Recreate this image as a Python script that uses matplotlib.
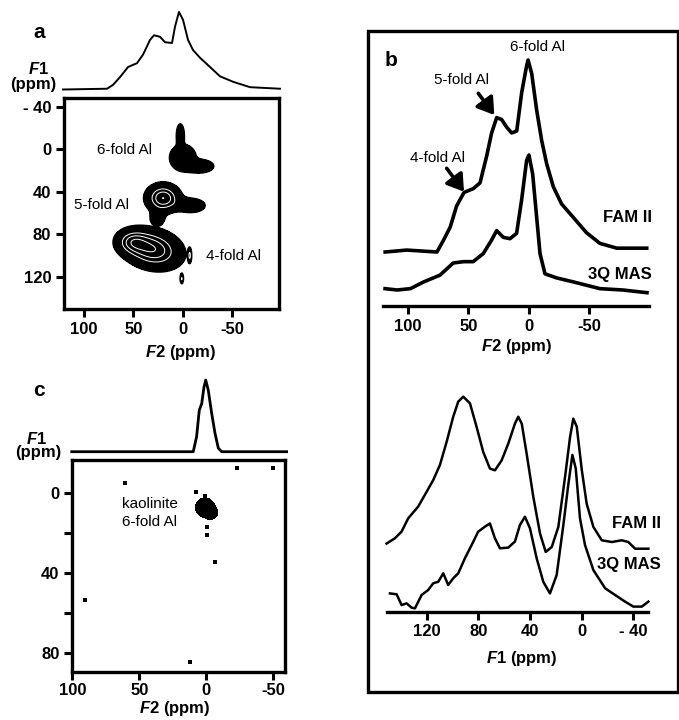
import numpy as np
import matplotlib
matplotlib.use("Agg")
import matplotlib.pyplot as plt
from matplotlib.patches import Rectangle, FancyArrowPatch

plt.rcParams['font.family'] = ['Liberation Sans', 'DejaVu Sans']
plt.rcParams['mathtext.fontset'] = 'custom'
plt.rcParams['mathtext.it'] = 'Liberation Sans:italic:bold'
plt.rcParams['mathtext.rm'] = 'Liberation Sans:bold'
plt.rcParams['mathtext.bf'] = 'Liberation Sans:bold'

# ------------------------------------------------------------------ data
# panel a : F2 projection (normalised intensity)
a_proj_ppm = [121.4, 76.8, 70.7, 63.6, 55.5, 46.4, 40.3, 33.2, 29.2, 23.1, 18.0,
              10.9, 7.9, 3.9, -0.2, -5.3, -10.3, -17.4, -27.6, -37.7, -50.9, -68.1, -98.5]
a_proj_int = [0.0, 0.01, 0.06, 0.16, 0.29, 0.34, 0.45, 0.64, 0.70, 0.68, 0.61,
              0.60, 0.81, 1.0, 0.90, 0.64, 0.51, 0.41, 0.29, 0.17, 0.10, 0.03, 0.01]

# panel a : 2D contour peak components (F2, F1 centre, widths, correlation, amplitude)
a_peak_site = [6, 6, 6, 5, 5, 5, 4, 4, 4, 4]
a_peak_f2 = [2.5, 0.0, -17.0, 20.0, -9.0, 26.0, 31.0, 52.0, -7.0, 1.0]
a_peak_f1 = [-13.0, 8.0, 16.0, 46.0, 53.0, 66.0, 94.0, 87.0, 100.0, 122.0]
a_peak_w2 = [2.2, 7.5, 8.0, 11.0, 9.5, 5.0, 19.0, 10.0, 1.0, 1.0]
a_peak_w1 = [6.0, 7.0, 3.5, 8.5, 4.5, 5.0, 12.0, 7.0, 4.0, 3.0]
a_peak_rho = [0, 0, 0, 0, 0, 0, -0.2, 0, 0, 0]
a_peak_amp = [1.0, 1.0, 1.0, 1.0, 0.55, 0.45, 1.0, 0.5, 0.6, 0.6]
a_site_labels = ["6-fold Al", "5-fold Al", "4-fold Al"]

# panel b (top): F2 projections
fam_f2_ppm = [118.9, 101, 76, 70.7, 65, 59.7, 53.6, 45.9, 40.3, 34.8, 30.7, 26.5, 22.4,
              18.2, 14.1, 9.9, 5.8, 1.7, 0.5, -2.5, -6.6, -10.8, -14.9, -20.4, -27.3,
              -37, -48, -59, -73, -97.8]
fam_f2_int = [0.0, 0.01, 0.0, 0.06, 0.13, 0.24, 0.31, 0.33, 0.36, 0.50, 0.62, 0.70, 0.69,
              0.65, 0.62, 0.63, 0.83, 0.97, 1.0, 0.93, 0.74, 0.58, 0.46, 0.34, 0.25,
              0.18, 0.10, 0.045, 0.02, 0.02]
q3_f2_ppm = [119, 109, 98, 87, 73.5, 62.5, 54, 46, 37.6, 30.7, 26.5, 21, 15.5, 10, 5.8,
             1.7, -0.2, -3.3, -6.6, -9.4, -13.5, -23, -37, -59, -78, -98]
q3_f2_int = [0.01, 0.0, 0.01, 0.06, 0.11, 0.20, 0.21, 0.21, 0.27, 0.37, 0.44, 0.39, 0.38,
             0.42, 0.67, 0.96, 1.0, 0.86, 0.54, 0.27, 0.12, 0.09, 0.06, 0.01, 0.0, -0.02]

# panel b (bottom): F1 projections
fam_f1_ppm = [151.3, 144.9, 139.7, 134.5, 126.8, 120.2, 115.1, 109.9, 104.7, 99.6, 95.7,
              91.8, 86.6, 81.4, 76.3, 71.1, 67.2, 62.0, 56.9, 51.7, 49.1, 46.4, 42.6,
              37.4, 32.2, 27.8, 23.1, 18.0, 12.8, 8.9, 6.4, 3.7, -0.2, -4.0, -9.2,
              -15.7, -23.5, -31.2, -36.3, -41.6, -51.9]
fam_f1_int = [0.317, 0.341, 0.372, 0.434, 0.488, 0.557, 0.611, 0.681, 0.788, 0.904, 0.974,
              0.997, 0.966, 0.856, 0.741, 0.664, 0.656, 0.702, 0.779, 0.872, 0.904, 0.872,
              0.733, 0.532, 0.363, 0.278, 0.301, 0.394, 0.625, 0.810, 0.895, 0.858, 0.658,
              0.501, 0.394, 0.332, 0.324, 0.332, 0.324, 0.293, 0.293]
q3_f1_ppm = [148.7, 143.5, 139.7, 135.8, 131.9, 129.3, 124.1, 119.0, 115.1, 111.2, 107.3,
             103.5, 99.6, 95.7, 90.5, 85.3, 80.2, 75.0, 71.1, 67.2, 63.3, 56.9, 51.7,
             47.8, 43.9, 40.0, 34.8, 29.7, 24.5, 19.3, 14.1, 10.3, 7.1, 4.5, 1.2, -2.7,
             -9.2, -18.3, -26.0, -33.8, -40.2, -46.8, -51.9]
q3_f1_int = [0.086, 0.082, 0.032, 0.040, 0.020, 0.017, 0.079, 0.102, 0.133, 0.140, 0.179,
             0.125, 0.156, 0.179, 0.249, 0.310, 0.372, 0.395, 0.410, 0.341, 0.295, 0.298,
             0.326, 0.403, 0.441, 0.387, 0.248, 0.140, 0.086, 0.171, 0.403, 0.588, 0.727,
             0.665, 0.434, 0.310, 0.194, 0.110, 0.079, 0.048, 0.025, 0.025, 0.048]

# panel c : F2 projection and 2D
c_proj_ppm = [100.4, 9.7, 7.2, 5.2, 3.4, 1.7, 0.4, -1.5, -4.0, -6.5, -9.0, -11.5, -60.0]
c_proj_int = [0.0, 0.0, 0.21, 0.58, 0.67, 0.90, 1.0, 0.86, 0.54, 0.26, 0.05, 0.0, 0.0]
c_peak_f2 = [1.0, -4.0]
c_peak_f1 = [7.0, 10.0]
c_peak_w2 = [4.5, 3.0]
c_peak_w1 = [3.0, 2.0]
c_peak_amp = [1.0, 0.7]
c_dot_f2 = [-22.9, -49.8, 60.7, 90.5, 12.2, -6.5, 7.7, 1.0, -0.5, -0.5]
c_dot_f1 = [-12.7, -12.7, -5.2, 53.4, 84.4, 34.4, -0.7, 1.4, 16.9, 20.9]

# ------------------------------------------------------------------ layout
W, H = 679, 720
fig = plt.figure(figsize=(W / 100, H / 100), dpi=100)


def box(x0, y0, x1, y1):
    return fig.add_axes([x0 / W, 1 - y1 / H, (x1 - x0) / W, (y1 - y0) / H])


def fp(x, y):
    return (x / W, 1 - y / H)


LW_BOX = 2.4
TICK = dict(direction='out', length=6, width=2.2, labelsize=12, pad=3)


def style_ticks(ax, xt, xl, yt=None, yl=None):
    ax.set_xticks(xt)
    ax.set_xticklabels(xl, fontweight='bold')
    if yt is None:
        ax.set_yticks([])
    else:
        ax.set_yticks(yt)
        ax.set_yticklabels(yl, fontweight='bold')
    ax.tick_params(**TICK)


def field(F2, F1, f2, f1, w2, w1, rho, amp):
    Z = np.zeros_like(F2)
    for c2, c1, s2, s1, r, A in zip(f2, f1, w2, w1, rho, amp):
        dx = (F2 - c2) / s2
        dy = (F1 - c1) / s1
        Q = (dx ** 2 - 2 * r * dx * dy + dy ** 2) / (1 - r ** 2)
        Z += A * np.exp(-0.5 * Q)
    return Z


def plabel(x, y, s, size=12, **kw):
    fig.text(*fp(x, y), s, ha='center', va='center', fontsize=size,
             fontweight='bold', **kw)


# ---------------- panel a
a_xlim = (120.7, -97.2)
axap = box(63.7, 12, 278.7, 89.5)
axap.plot(a_proj_ppm, a_proj_int, color='black', lw=1.4, clip_on=False)
axap.set_xlim(*a_xlim)
axap.set_ylim(0, 1)
axap.axis('off')

axa = box(63.7, 97.7, 278.7, 309.3)
g2 = np.linspace(125, -100, 500)
g1 = np.linspace(-55, 160, 480)
F2, F1 = np.meshgrid(g2, g1)
site = np.array(a_peak_site)
for s in (6, 5, 4):
    m = site == s
    Z = field(F2, F1, np.array(a_peak_f2)[m], np.array(a_peak_f1)[m],
              np.array(a_peak_w2)[m], np.array(a_peak_w1)[m],
              np.array(a_peak_rho)[m], np.array(a_peak_amp)[m])
    axa.contourf(F2, F1, Z, levels=[0.2, 100], colors='black')
    axa.contour(F2, F1, Z, levels=[0.2], colors='black', linewidths=1.2)
    if s != 6:
        axa.contour(F2, F1, Z, levels=[0.6, 0.8, 1.0], colors='white', linewidths=0.7)
axa.set_xlim(*a_xlim)
axa.set_ylim(150.7, -48.5)
for sp in axa.spines.values():
    sp.set_linewidth(LW_BOX)
style_ticks(axa, [100, 50, 0, -50], ['100', '50', '0', '-50'],
            [-40, 0, 40, 80, 120], ['- 40', '0', '40', '80', '120'])
axa.text(58.6, 0.9, a_site_labels[0], ha='center', va='center', fontsize=11)
axa.text(81.9, 52.7, a_site_labels[1], ha='center', va='center', fontsize=11)
axa.text(-50.9, 100.7, a_site_labels[2], ha='center', va='center', fontsize=11)

plabel(39, 32, 'a', size=15)
plabel(38, 69, '$F$1', size=12)
plabel(33.5, 85, '(ppm)', size=12)
plabel(181, 353, '$F$2 (ppm)', size=12)

# ---------------- panel b outer frame
fig.add_artist(Rectangle(fp(368.3, 692), (678.3 - 368.3) / W, (692 - 30.8) / H,
                         transform=fig.transFigure, fill=False, lw=LW_BOX,
                         edgecolor='black'))

# ---------------- panel b top
bt = (383, 40, 649, 306)
axbt = box(*bt)


def stack(px_base, px_peak):
    span = bt[3] - bt[1]
    return (bt[3] - px_base) / span, (px_base - px_peak) / span


off, sc = stack(252, 60)
axbt.plot(fam_f2_ppm, off + sc * np.array(fam_f2_int), color='black', lw=2.6)
off, sc = stack(290, 155)
axbt.plot(q3_f2_ppm, off + sc * np.array(q3_f2_int), color='black', lw=2.6)
axbt.set_xlim(120.7, -99.7)
axbt.set_ylim(0, 1)
for k in ('top', 'left', 'right'):
    axbt.spines[k].set_visible(False)
axbt.spines['bottom'].set_linewidth(LW_BOX)
style_ticks(axbt, [100, 50, 0, -50], ['100', '50', '0', '-50'])
axbt.patch.set_alpha(0)

plabel(391, 60, 'b', size=15)
fig.text(*fp(537, 47), '6-fold Al', ha='center', va='center', fontsize=11)
fig.text(*fp(462, 80), '5-fold Al', ha='center', va='center', fontsize=11)
fig.text(*fp(437, 158), '4-fold Al', ha='center', va='center', fontsize=11)
arrow_kw = dict(arrowstyle='-|>,head_length=0.7,head_width=0.45', lw=2.6,
                color='black', shrinkA=0, shrinkB=0, mutation_scale=14)
fig.add_artist(FancyArrowPatch(fp(478.3, 93.3), fp(494.3, 115),
                               transform=fig.transFigure, **arrow_kw))
fig.add_artist(FancyArrowPatch(fp(446.7, 168.3), fp(464, 191.7),
                               transform=fig.transFigure, **arrow_kw))
fig.text(*fp(652, 218), 'FAM II', ha='right', va='center', fontsize=12, fontweight='bold')
fig.text(*fp(652, 275), '3Q MAS', ha='right', va='center', fontsize=12, fontweight='bold')
plabel(517, 346, '$F$2 (ppm)', size=12)

# ---------------- panel b bottom
axbb = box(387, 396, 648, 612)
axbb.plot(fam_f1_ppm, fam_f1_int, color='black', lw=1.8, clip_on=False)
axbb.plot(q3_f1_ppm, q3_f1_int, color='black', lw=1.8, clip_on=False)
axbb.set_xlim(151, -51.6)
axbb.set_ylim(0, 1)
for k in ('top', 'left', 'right'):
    axbb.spines[k].set_visible(False)
axbb.spines['bottom'].set_linewidth(LW_BOX)
style_ticks(axbb, [120, 80, 40, 0, -40], ['120', '80', '40', '0', '- 40'])
axbb.patch.set_alpha(0)
fig.text(*fp(661, 524), 'FAM II', ha='right', va='center', fontsize=12, fontweight='bold')
fig.text(*fp(661, 564), '3Q MAS', ha='right', va='center', fontsize=12, fontweight='bold')
plabel(522, 658, '$F$1 (ppm)', size=12)

# ---------------- panel c
c_xlim = (100.2, -59.0)
axcp = box(72, 380, 285.3, 451.7)
axcp.plot(c_proj_ppm, c_proj_int, color='black', lw=2.0, clip_on=False)
axcp.set_xlim(*c_xlim)
axcp.set_ylim(0, 1)
axcp.axis('off')

axc = box(72, 460.3, 285.3, 672)
cg2 = np.linspace(105, -62, 500)
cg1 = np.linspace(-20, 92, 400)
C2, C1 = np.meshgrid(cg2, cg1)
Zc = field(C2, C1, c_peak_f2, c_peak_f1, c_peak_w2, c_peak_w1,
           [0] * len(c_peak_f2), c_peak_amp)
axc.contourf(C2, C1, Zc, levels=[0.3, 100], colors='black')
axc.scatter(c_dot_f2, c_dot_f1, s=5, marker='s', color='black', linewidths=0)
axc.set_xlim(*c_xlim)
axc.set_ylim(89.35, -16.5)
for sp in axc.spines.values():
    sp.set_linewidth(LW_BOX)
style_ticks(axc, [100, 50, 0, -50], ['100', '50', '0', '-50'],
            [0, 40, 80], ['0', '40', '80'])
axc.set_yticks([20, 60], minor=True)
axc.tick_params(which='minor', direction='out', length=6, width=2.2)
axc.tick_params(axis='x', pad=2)
axc.text(62.9, 9.9, 'kaolinite\n6-fold Al', ha='left', va='center', fontsize=11,
         linespacing=1.3)

plabel(39, 390, 'c', size=15)
plabel(36, 439, '$F$1', size=12)
plabel(38, 453, '(ppm)', size=12)
plabel(175, 709, '$F$2 (ppm)', size=12)

fig.savefig('out.png', dpi=100)
